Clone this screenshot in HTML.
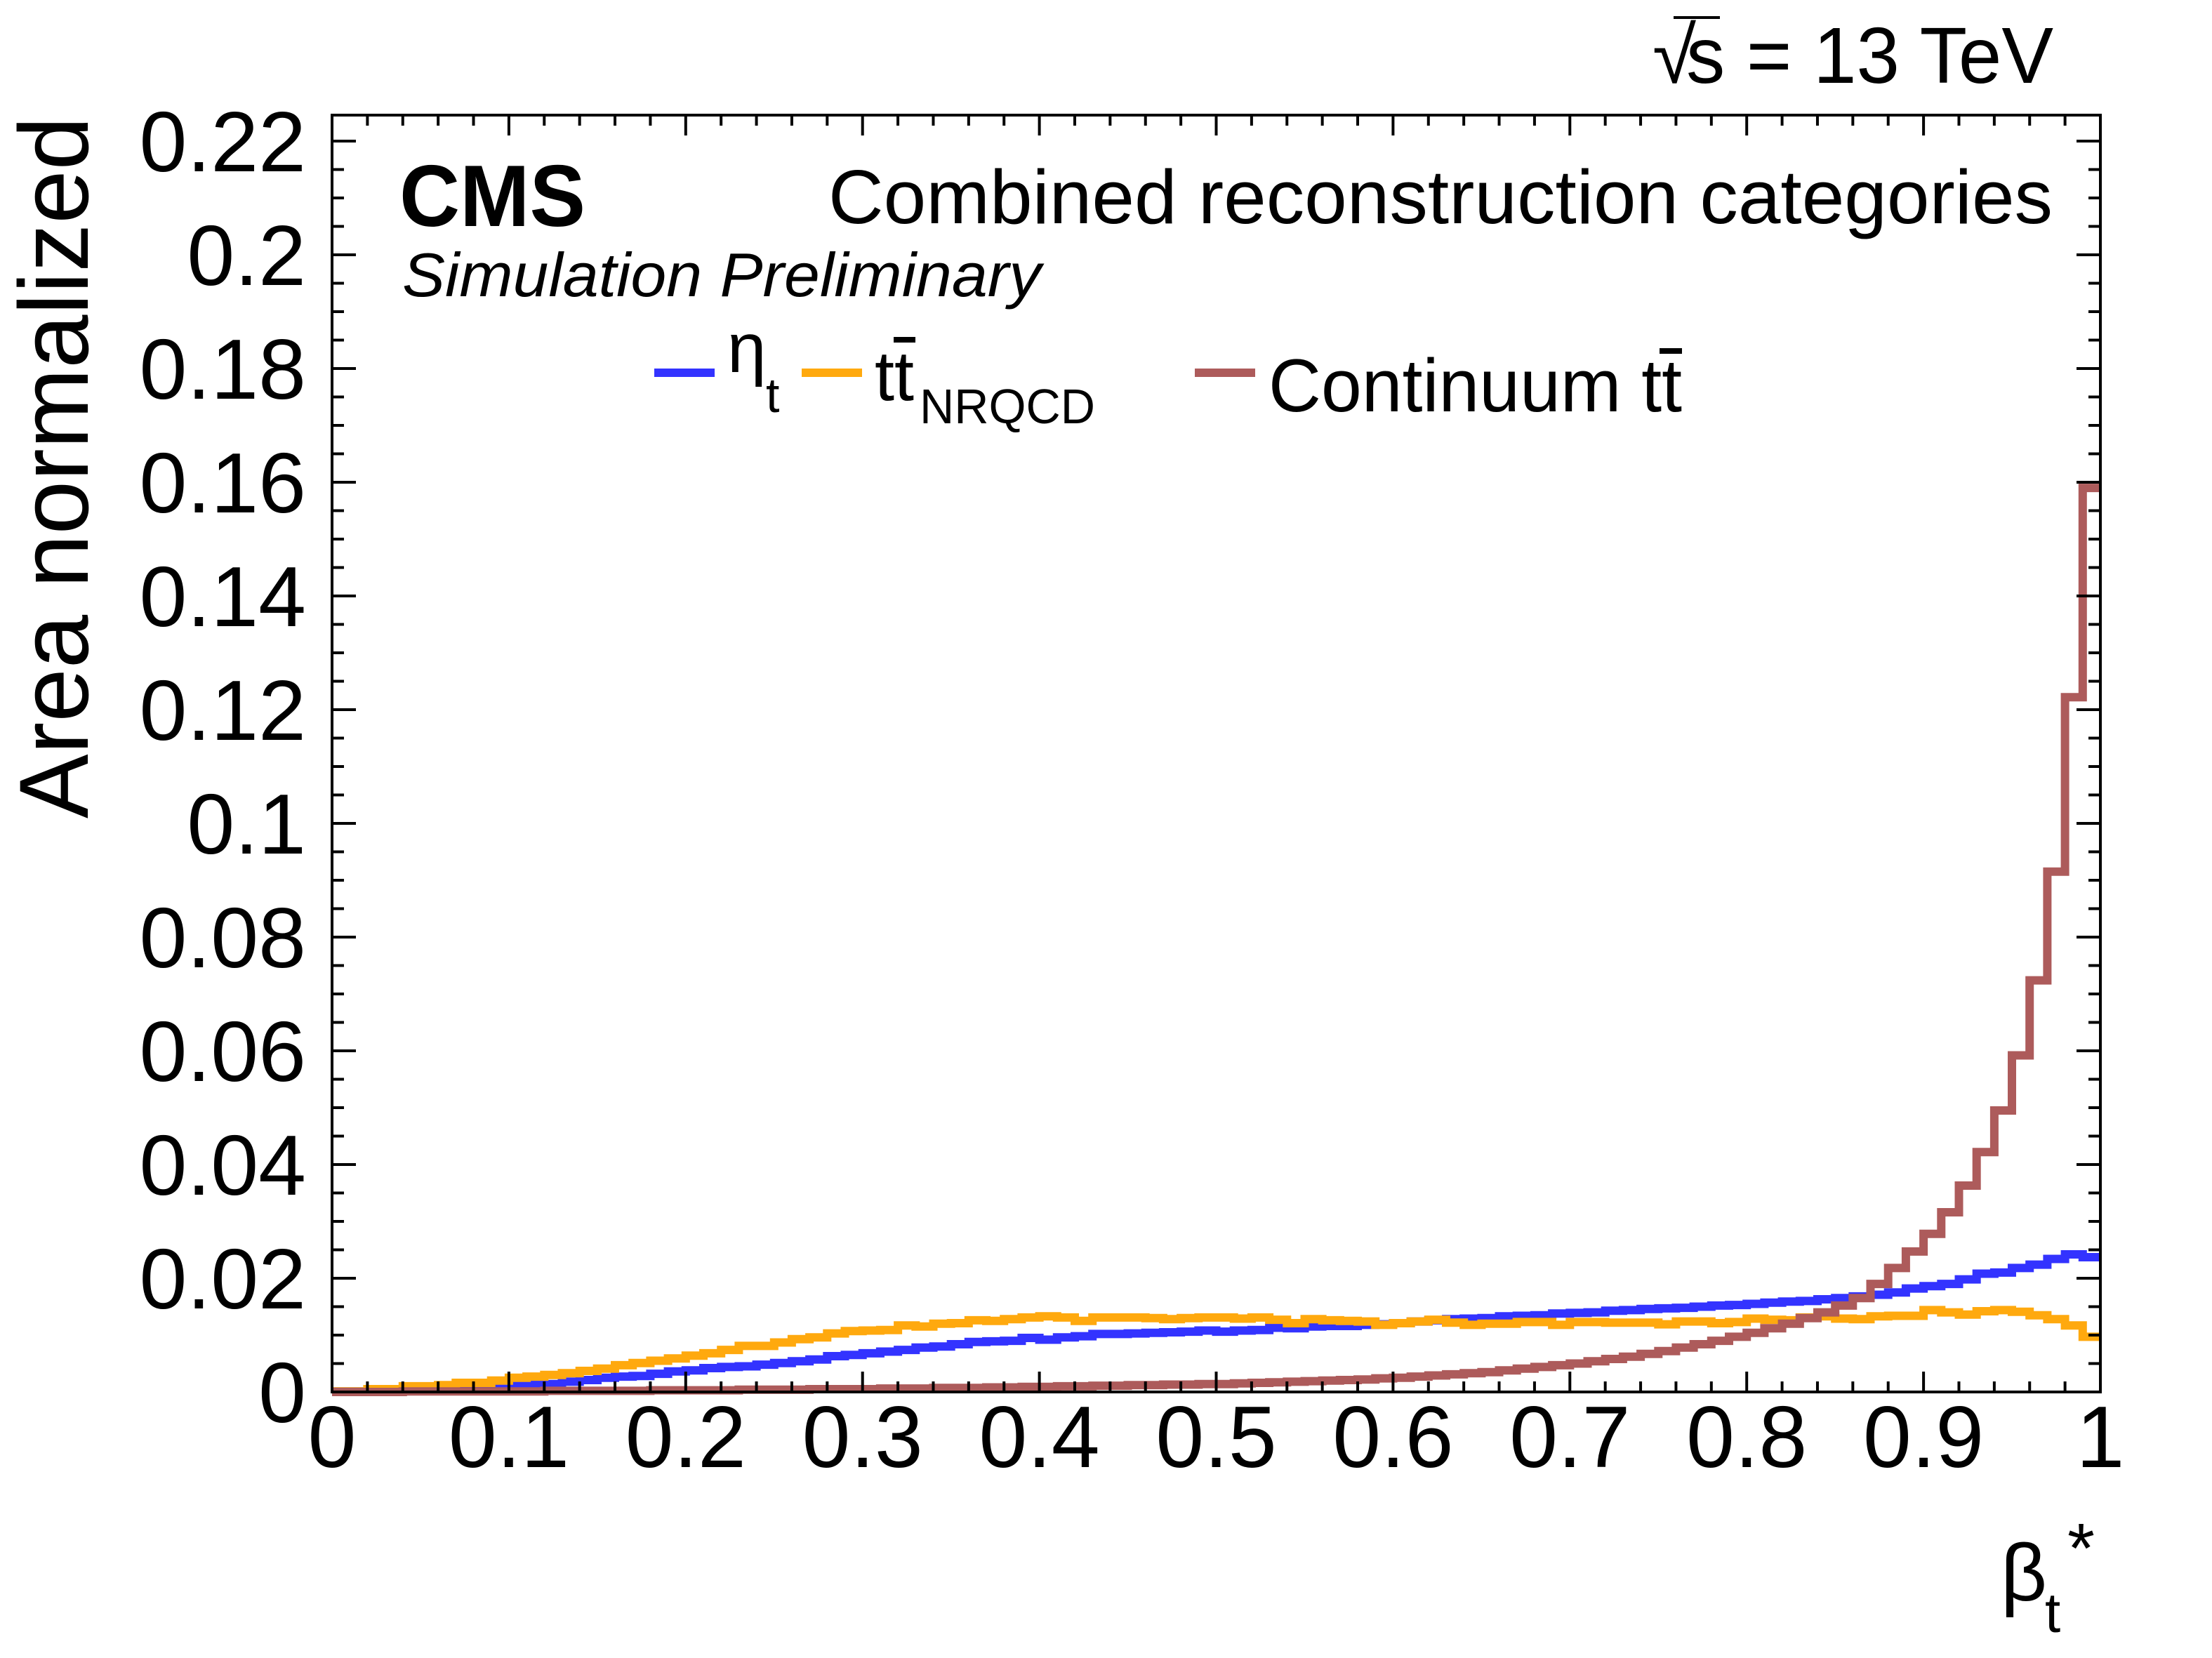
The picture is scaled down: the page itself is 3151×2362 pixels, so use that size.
<!DOCTYPE html>
<html><head><meta charset="utf-8"><style>
html,body{margin:0;padding:0;background:#fff;}
svg{display:block;}
text{font-family:"Liberation Sans",sans-serif;fill:#000;}
</style></head><body>
<svg id="chart" width="3151" height="2362" viewBox="0 0 3151 2362" xmlns="http://www.w3.org/2000/svg">
<rect x="0" y="0" width="3151" height="2362" fill="#fff"/>
<g id="hists"></g>
<g id="axes"></g>
<text x="2354" y="118" font-size="113">√<tspan x="2402" textLength="523" lengthAdjust="spacingAndGlyphs">s = 13 TeV</tspan></text>
<line x1="2384" y1="25" x2="2450" y2="25" stroke="#000" stroke-width="4"/>
<text x="569" y="322" font-size="124" font-weight="bold" textLength="265" lengthAdjust="spacingAndGlyphs">CMS</text>
<text x="573" y="422" font-size="88" font-style="italic" textLength="910" lengthAdjust="spacingAndGlyphs">Simulation Preliminary</text>
<text x="2924" y="318" font-size="109" text-anchor="end" textLength="1744" lengthAdjust="spacingAndGlyphs">Combined reconstruction categories</text>
<g>
  <g>
    <line x1="932" y1="531" x2="1018" y2="531" stroke="#3333ff" stroke-width="12"/>
    <text x="1036" y="530" font-size="100" font-family="'Liberation Serif',serif">η</text>
    <text x="1091" y="587" font-size="70">t</text>
  </g>
  <g>
    <line x1="1142" y1="531" x2="1228" y2="531" stroke="#ffa90e" stroke-width="12"/>
    <text x="1246" y="570" font-size="100" textLength="56" lengthAdjust="spacingAndGlyphs">tt</text>
    <line x1="1273" y1="484" x2="1304" y2="484" stroke="#000" stroke-width="8"/>
    <text x="1310" y="603" font-size="70" textLength="250" lengthAdjust="spacingAndGlyphs">NRQCD</text>
  </g>
  <g>
    <line x1="1702" y1="531" x2="1788" y2="531" stroke="#ad5b5b" stroke-width="12"/>
    <text x="1807" y="586" font-size="107" textLength="589" lengthAdjust="spacingAndGlyphs">Continuum tt</text>
    <line x1="2364" y1="500" x2="2396" y2="500" stroke="#000" stroke-width="8"/>
  </g>
</g>
<text transform="translate(125,1166) rotate(-90)" font-size="140" textLength="1000" lengthAdjust="spacingAndGlyphs">Area normalized</text>
<g>
  <text x="2850" y="2280" font-size="115" font-family="'Liberation Serif',serif">β</text>
  <text x="2913" y="2325" font-size="80">t</text>
  <text x="2945" y="2240" font-size="100">*</text>
</g>
</svg>
<script>
const categories = [];
for (let i = 0; i < 100; i++) categories.push(i / 100);
const etaT = [0.0001,0.0001,0.0001,0.0002,0.0002,0.0003,0.0003,0.0004,0.0006,0.0007,
0.0011,0.0013,0.0014,0.0018,0.0021,0.0025,0.0027,0.0028,0.0032,0.0036,
0.0038,0.0042,0.0044,0.0045,0.0048,0.0051,0.0054,0.0057,0.0063,0.0065,
0.0068,0.0071,0.0074,0.0078,0.0080,0.0084,0.0088,0.0089,0.0090,0.0095,
0.0092,0.0096,0.0098,0.0102,0.0102,0.0103,0.0104,0.0105,0.0106,0.0108,
0.0106,0.0108,0.0109,0.0113,0.0112,0.0115,0.0116,0.0116,0.0118,0.0119,
0.0121,0.0124,0.0126,0.0128,0.0129,0.0130,0.0133,0.0134,0.0135,0.0138,
0.0139,0.0140,0.0143,0.0144,0.0146,0.0147,0.0148,0.0150,0.0152,0.0153,
0.0155,0.0157,0.0159,0.0160,0.0163,0.0165,0.0168,0.0171,0.0175,0.0182,
0.0186,0.0190,0.0198,0.0208,0.0210,0.0218,0.0224,0.0234,0.0242,0.0237];
const ttNRQCD = [0.0001,0.0001,0.0005,0.0005,0.0010,0.0010,0.0012,0.0016,0.0016,0.0020,
0.0025,0.0027,0.0030,0.0033,0.0037,0.0041,0.0047,0.0051,0.0055,0.0059,
0.0064,0.0068,0.0074,0.0081,0.0081,0.0087,0.0093,0.0096,0.0103,0.0107,
0.0108,0.0109,0.0117,0.0115,0.0120,0.0121,0.0126,0.0125,0.0128,0.0131,
0.0133,0.0131,0.0125,0.0131,0.0131,0.0131,0.0130,0.0128,0.0130,0.0131,
0.0131,0.0129,0.0131,0.0127,0.0121,0.0128,0.0126,0.0125,0.0124,0.0118,
0.0121,0.0124,0.0127,0.0122,0.0118,0.0120,0.0120,0.0123,0.0123,0.0118,
0.0123,0.0123,0.0122,0.0122,0.0122,0.0119,0.0124,0.0124,0.0121,0.0123,
0.0129,0.0127,0.0126,0.0131,0.0133,0.0129,0.0128,0.0133,0.0134,0.0134,
0.0144,0.0140,0.0136,0.0142,0.0144,0.0141,0.0135,0.0128,0.0117,0.0097];
const continuumTT = [0,0,0,0,0.0001,0.0001,0.0001,0.0001,0.0001,0.0001,
0.0001,0.0001,0.0002,0.0002,0.0002,0.0002,0.0002,0.0002,0.0003,0.0003,
0.0003,0.0003,0.0003,0.0004,0.0004,0.0004,0.0004,0.0005,0.0005,0.0005,
0.0005,0.0006,0.0006,0.0006,0.0007,0.0007,0.0007,0.0008,0.0008,0.0009,
0.0009,0.0010,0.0010,0.0011,0.0011,0.0012,0.0012,0.0013,0.0013,0.0014,
0.0014,0.0015,0.0016,0.0017,0.0018,0.0019,0.0020,0.0021,0.0022,0.0024,
0.0025,0.0027,0.0029,0.0031,0.0033,0.0035,0.0038,0.0041,0.0044,0.0047,
0.0050,0.0054,0.0058,0.0062,0.0067,0.0072,0.0078,0.0084,0.0090,0.0097,
0.0104,0.0112,0.0120,0.0130,0.0140,0.0152,0.0165,0.0190,0.0218,0.0247,
0.0278,0.0316,0.0363,0.0422,0.0495,0.0592,0.0724,0.0915,0.1222,0.1590];
const yTicks = [0,0.02,0.04,0.06,0.08,0.1,0.12,0.14,0.16,0.18,0.2,0.22];
const yTickLabels = ["0","0.02","0.04","0.06","0.08","0.1","0.12","0.14","0.16","0.18","0.2","0.22"];
const xTicks = [0,0.1,0.2,0.3,0.4,0.5,0.6,0.7,0.8,0.9,1];
const xTickLabels = ["0","0.1","0.2","0.3","0.4","0.5","0.6","0.7","0.8","0.9","1"];

const NS = "http://www.w3.org/2000/svg";
const L = 473, R = 2992, T = 164, B = 1983;
const binW = 0.01;
function xs(v){ return L + v * (R - L); }
function ys(v){ return B - v * 8100; }
function mk(tag, parent){ const e = document.createElementNS(NS, tag); parent.appendChild(e); return e; }

const hg = document.getElementById('hists');
function drawHist(vals, color, name){
  let d = '';
  for (let i = 0; i < vals.length; i++){
    const x0 = xs(categories[i]), x1 = xs(categories[i] + binW), y = ys(vals[i]);
    d += (i === 0 ? 'M' : 'L') + x0.toFixed(1) + ',' + y.toFixed(1) + 'L' + x1.toFixed(1) + ',' + y.toFixed(1);
  }
  const p = mk('path', hg);
  p.setAttribute('d', d);
  p.setAttribute('fill', 'none');
  p.setAttribute('stroke', color);
  p.setAttribute('stroke-width', '12');
  p.setAttribute('stroke-linejoin', 'miter');
  
  
}
drawHist(etaT, '#3333ff', 'hist-eta-t');
drawHist(ttNRQCD, '#ffa90e', 'hist-tt-nrqcd');
drawHist(continuumTT, '#ad5b5b', 'hist-continuum-tt');

const ag = document.getElementById('axes');
const frame = mk('rect', ag);
frame.setAttribute('x', L); frame.setAttribute('y', T);
frame.setAttribute('width', R - L); frame.setAttribute('height', B - T);
frame.setAttribute('fill', 'none'); frame.setAttribute('stroke', '#000'); frame.setAttribute('stroke-width', '4');



function tick(x1, y1, x2, y2){
  const l = mk('line', ag);
  l.setAttribute('x1', x1); l.setAttribute('y1', y1); l.setAttribute('x2', x2); l.setAttribute('y2', y2);
  l.setAttribute('stroke', '#000'); l.setAttribute('stroke-width', '4');
  
  
}
// y ticks: major 0.02, minor 0.005
for (let k = 0; k <= 44; k++){
  const v = k * 0.005, y = ys(v);
  if (y < T) break;
  const len = (k % 4 === 0) ? 34 : 17;
  tick(L, y, L + len, y); tick(R, y, R - len, y);
}
// x ticks: major 0.1, minor 0.02
for (let k = 0; k <= 50; k++){
  const x = xs(k * 0.02);
  const len = (k % 5 === 0) ? 29 : 15;
  tick(x, B, x, B - len); tick(x, T, x, T + len);
}
yTicks.forEach((v, i) => {
  const t = mk('text', ag);
  t.setAttribute('x', 436); t.setAttribute('y', ys(v) + 43);
  t.setAttribute('font-size', '122'); t.setAttribute('text-anchor', 'end');
  t.textContent = yTickLabels[i];
  
  
});
xTicks.forEach((v, i) => {
  const t = mk('text', ag);
  t.setAttribute('x', xs(v)); t.setAttribute('y', 2090);
  t.setAttribute('font-size', '124'); t.setAttribute('text-anchor', 'middle');
  t.textContent = xTickLabels[i];
  
  
});
</script>
</body></html>
